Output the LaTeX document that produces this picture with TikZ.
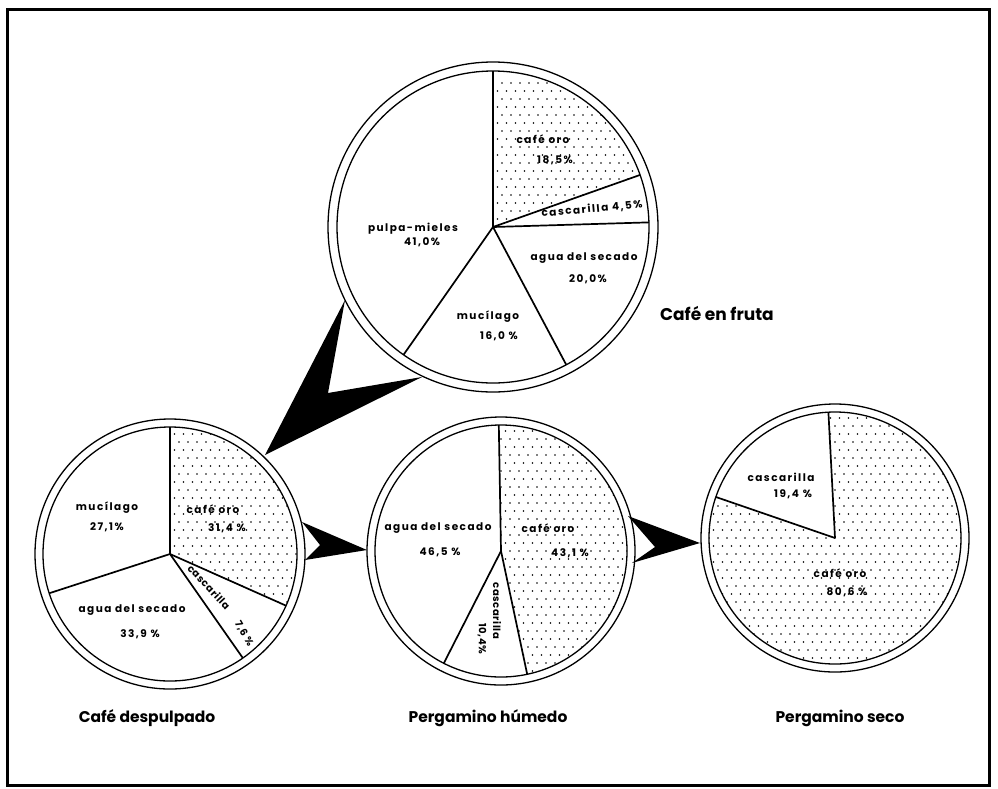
\documentclass[tikz,border=0pt]{standalone}
\usepackage{fontspec}
\setmainfont{Poppins}
\newcommand\cafedots[5]{%
  \begin{scope}
    \clip (#1,#2) -- ++(#3:#5) arc[start angle=#3,end angle=#4,radius=#5] -- cycle;
    \foreach \j in {-18,...,18}{%
      \pgfmathsetmacro\off{mod(\j,2)*4.5}%
      \foreach \i in {-18,...,18}{%
        \fill (#1+\i*9+\off,#2+\j*8) circle (0.8);
      }}
  \end{scope}}
\tikzset{
  ring/.style={line width=1.3pt},
  sect/.style={line width=1.7pt},
  lbl/.style={font=\bfseries\fontsize{10.5}{12}\selectfont\addfontfeature{LetterSpace=14}, inner sep=0pt},
  lbltight/.style={font=\bfseries\fontsize{10}{12}\selectfont\addfontfeature{LetterSpace=6}, inner sep=0pt},
  title/.style={font=\bfseries\fontsize{15.5}{18}\selectfont, inner sep=0pt},
}
\begin{document}
\begin{tikzpicture}[x=1pt,y=1pt]
\useasboundingbox (0,0) rectangle (998,-788);
\fill[white] (0,0) rectangle (998,-788);
\draw[line width=3pt] (7,-9) rectangle (989,-785);

% ---------- top pie: Cafe en fruta ----------
\coordinate (c1) at (493,-227);
\cafedots{493}{-227}{19.5}{90}{156}
\draw[ring] (c1) circle (165);
\draw[ring] (c1) circle (156);
\draw[sect] (c1) -- ++(90:156);
\draw[sect] (c1) -- ++(19.5:156);
\draw[sect] (c1) -- ++(1.7:156);
\draw[sect] (c1) -- ++(-62:156);
\draw[sect] (c1) -- ++(-125:156);
\node[lbl] (t1a) at (543,-139) {café oro};
\node[lbl] (t1b) at (555,-160) {18,5\%};
\node[lbl,rotate=5] (t1c) at (592,-209) {cascarilla 4,5\%};
\node[lbl] (t1d) at (584,-258) {agua del secado};
\node[lbl] (t1e) at (588,-279) {20,0\%};
\node[lbl] (t1f) at (488,-317) {mucílago};
\node[lbl] (t1g) at (499,-336) {16,0 \%};
\node[lbl] (t1h) at (413,-229) {pulpa-mieles};
\node[lbl] (t1i) at (422,-242) {41,0\%};
\node[title,font=\bfseries\fontsize{17}{20}\selectfont] (n1) at (717,-313) {Café en fruta};

% ---------- left pie: Cafe despulpado ----------
\coordinate (c2) at (170,-554);
\cafedots{170}{-554}{-24}{90}{127}
\draw[ring] (c2) circle (135);
\draw[ring] (c2) circle (127);
\draw[sect] (c2) -- ++(90:127);
\draw[sect] (c2) -- ++(-24:127);
\draw[sect] (c2) -- ++(-55:127);
\draw[sect] (c2) -- ++(-162:127);
\node[lbl] (t2a) at (213,-509) {café oro};
\node[lbl] (t2b) at (227,-528) {31,4 \%};
\node[lbl] (t2c) at (107,-508) {mucílago};
\node[lbl] (t2d) at (107,-527) {27,1\%};
\node[lbl] (t2e) at (132,-610) {agua del secado};
\node[lbl] (t2f) at (140,-634) {33,9 \%};
\node[lbltight,rotate=-47] (t2g) at (209,-587) {cascarilla};
\node[lbltight,rotate=-60] (t2h) at (244,-634) {7,6 \%};
\node[title] (n2) at (147,-718) {Café despulpado};

% ---------- middle pie: Pergamino humedo ----------
\coordinate (c3) at (501,-551);
\cafedots{501}{-551}{-78}{91}{126}
\draw[ring] (c3) circle (134);
\draw[ring] (c3) circle (126);
\draw[sect] (c3) -- ++(91:126);
\draw[sect] (c3) -- ++(-78:126);
\draw[sect] (c3) -- ++(-117:126);
\node[lbl] (t3a) at (548,-528) {café oro};
\node[lbl] (t3b) at (570,-553) {43,1 \%};
\node[lbl] (t3c) at (438,-528) {agua del secado};
\node[lbl] (t3d) at (440,-552) {46,5 \%};
\node[lbltight,rotate=-90] (t3e) at (497,-611) {cascarilla};
\node[lbltight,rotate=-90] (t3f) at (482,-639) {10,4\%};
\node[title] (n3) at (488,-718) {Pergamino húmedo};

% ---------- right pie: Pergamino seco ----------
\coordinate (c4) at (835,-538);
\cafedots{835}{-538}{161}{453}{126}
\draw[ring] (c4) circle (134);
\draw[ring] (c4) circle (126);
\draw[sect] (c4) -- ++(93:126);
\draw[sect] (c4) -- ++(161:126);
\node[lbl] (t4a) at (781,-477) {cascarilla};
\node[lbl] (t4b) at (793,-494) {19,4 \%};
\node[lbl] (t4c) at (840,-573) {café oro};
\node[lbl] (t4d) at (847,-592) {80,6 \%};
\node[title] (n4) at (840,-718) {Pergamino seco};

% ---------- chevron arrows ----------
\fill (345,-300) -- (328,-393) -- (422,-377) -- (265,-455) -- cycle;
\fill (302,-522) -- (320,-545) -- (305,-560) -- (367,-550) -- cycle;
\fill (628,-516) -- (655,-547) -- (632,-563) -- (700,-543) -- cycle;
\end{tikzpicture}
\end{document}
